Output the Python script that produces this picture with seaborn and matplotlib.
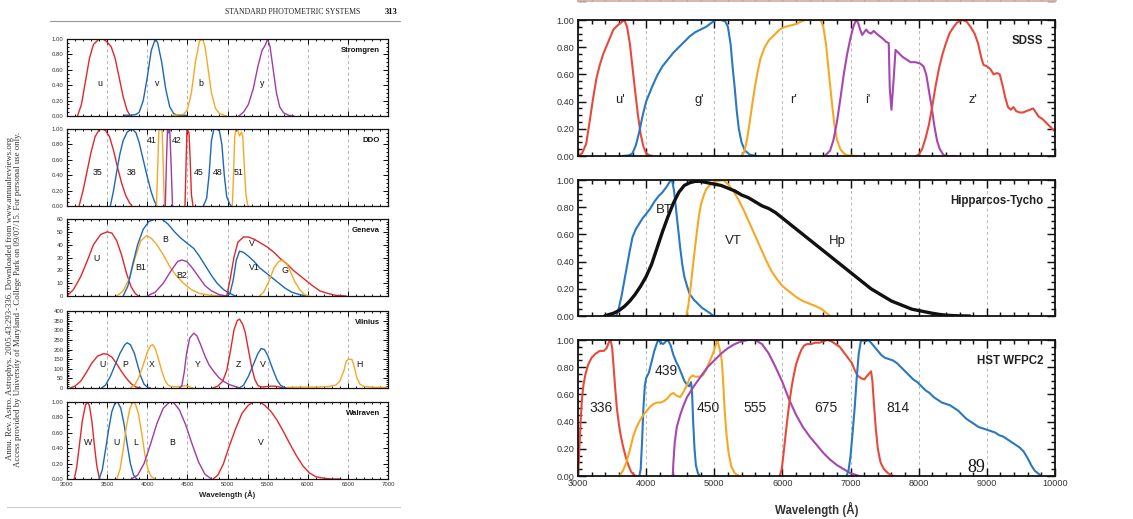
import matplotlib
matplotlib.use("Agg")
import matplotlib.pyplot as plt
import seaborn as sns
from matplotlib.ticker import MultipleLocator, FormatStrFormatter, NullFormatter

# ---------------- DATA (wavelength [A], relative response) ----------------
# Stromgren
STROM_u = [(3130,0),(3180,0.15),(3230,0.45),(3280,0.75),(3330,0.93),(3400,1.0),(3450,1.0),(3500,0.96),(3550,0.9),(3600,0.75),(3650,0.5),(3700,0.25),(3750,0.07),(3790,0.0)]
STROM_v = [(3710,0.01),(3800,0.01),(3860,0.02),(3900,0.05),(3950,0.2),(4000,0.5),(4050,0.85),(4100,1.0),(4130,0.95),(4180,0.7),(4230,0.35),(4280,0.12),(4330,0.03),(4380,0.01),(4490,0.01)]
STROM_b = [(4310,0.01),(4450,0.02),(4500,0.08),(4550,0.3),(4600,0.7),(4650,0.97),(4690,1.0),(4720,0.9),(4760,0.6),(4800,0.3),(4850,0.1),(4900,0.03),(4990,0.0)]
STROM_y = [(5140,0),(5200,0.05),(5260,0.15),(5320,0.35),(5380,0.65),(5430,0.85),(5470,0.92),(5500,1.0),(5530,0.9),(5570,0.6),(5610,0.3),(5650,0.12),(5700,0.04),(5760,0.01),(5830,0)]
# DDO
DDO_35 = [(3150,0),(3200,0.2),(3250,0.45),(3300,0.7),(3350,0.9),(3400,0.99),(3440,1.0),(3480,0.98),(3530,0.9),(3580,0.72),(3630,0.5),(3680,0.3),(3730,0.14),(3780,0.04),(3810,0)]
DDO_38 = [(3540,0),(3580,0.2),(3620,0.45),(3660,0.68),(3700,0.85),(3750,0.96),(3810,1.0),(3860,0.95),(3900,0.82),(3950,0.6),(4000,0.38),(4050,0.18),(4090,0.06),(4120,0)]
DDO_41 = [(4115,0),(4130,0.5),(4145,0.98),(4160,1.0),(4185,0.98),(4200,0.5),(4215,0)]
DDO_42 = [(4225,0),(4240,0.6),(4252,0.98),(4265,0.95),(4280,1.0),(4295,0.6),(4315,0)]
DDO_45 = [(4470,0),(4485,0.6),(4495,1.0),(4510,0.97),(4520,0.95),(4535,0.6),(4550,0.15),(4570,0)]
DDO_48 = [(4700,0),(4740,0.1),(4770,0.4),(4800,0.85),(4830,1.0),(4870,1.0),(4900,0.97),(4930,0.8),(4960,0.4),(4990,0.12),(5030,0.02),(5050,0)]
DDO_51 = [(5060,0),(5075,0.4),(5090,0.9),(5105,1.0),(5125,0.99),(5150,0.91),(5175,0.96),(5190,0.9),(5210,0.5),(5230,0.15),(5250,0.02),(5260,0)]
# Geneva
GEN_U = [(3000,0),(3080,5),(3170,15),(3250,27),(3330,40),(3420,48),(3500,50),(3560,49),(3620,43),(3680,32),(3740,18),(3800,7),(3850,2),(3890,0)]
GEN_B1 = [(3620,0),(3700,4),(3780,14),(3850,30),(3920,43),(3990,47),(4050,45),(4120,40),(4200,32),(4280,23),(4360,16),(4450,10),(4550,5),(4650,2),(4800,0.5),(4990,0)]
GEN_B = [(3700,0),(3760,8),(3820,25),(3880,40),(3950,52),(4020,58),(4100,60),(4180,60),(4260,56),(4340,50),(4420,45),(4500,41),(4580,37),(4650,31),(4720,24),(4800,16),(4870,10),(4950,5),(5030,2),(5100,0)]
GEN_B2 = [(4000,0),(4100,3),(4200,10),(4300,20),(4380,27),(4430,28),(4490,27),(4560,22),(4640,15),(4720,8),(4800,4),(4900,1),(4990,0)]
GEN_V = [(4990,0),(5030,12),(5080,30),(5130,42),(5200,46),(5260,46),(5340,44),(5420,41),(5500,38),(5580,34),(5660,29),(5740,25),(5820,20),(5900,16),(5980,12),(6060,8),(6150,4),(6250,2),(6350,0.5),(6480,0)]
GEN_V1 = [(4990,0),(5030,2),(5070,12),(5110,28),(5150,35),(5200,34),(5260,31),(5330,27),(5400,22),(5480,18),(5560,14),(5640,10),(5720,6),(5800,3),(5900,1),(6000,0)]
GEN_G = [(5400,0),(5450,3),(5520,12),(5580,22),(5640,27),(5690,28),(5740,25),(5790,18),(5840,11),(5900,5),(5960,1),(6020,0)]
# Vilnius
VIL_U = [(3040,0),(3100,10),(3170,35),(3240,80),(3310,130),(3380,165),(3450,178),(3500,176),(3560,160),(3620,125),(3680,85),(3740,50),(3800,22),(3860,5),(3920,0)]
VIL_P = [(3430,0),(3480,15),(3540,60),(3600,120),(3660,180),(3720,225),(3750,235),(3790,225),(3840,180),(3880,120),(3920,60),(3960,20),(4000,5),(4040,0)]
VIL_X = [(3790,0),(3850,20),(3900,60),(3950,120),(4000,185),(4040,220),(4070,225),(4100,205),(4140,150),(4180,90),(4220,40),(4260,15),(4300,8),(4370,6),(4440,10),(4490,12),(4530,6),(4570,0)]
VIL_Y = [(4400,0),(4430,10),(4460,80),(4490,180),(4530,260),(4580,285),(4620,270),(4670,220),(4720,165),(4770,120),(4830,85),(4890,55),(4950,35),(5020,18),(5100,7),(5160,0)]
VIL_Z = [(4820,0),(4880,10),(4940,35),(4990,90),(5040,200),(5080,300),(5120,350),(5150,358),(5190,330),(5220,290),(5260,200),(5300,110),(5340,45),(5380,12),(5430,5),(5500,8),(5560,10),(5620,8),(5680,2),(5720,0)]
VIL_V = [(5150,0),(5200,15),(5260,60),(5320,120),(5380,180),(5420,205),(5460,200),(5500,170),(5540,125),(5580,80),(5620,40),(5660,15),(5700,5),(5740,0)]
VIL_H = [(5740,3),(5900,5),(6100,5),(6250,7),(6350,15),(6400,35),(6450,90),(6480,140),(6510,150),(6550,148),(6580,110),(6610,55),(6650,20),(6700,8),(6800,4),(6900,3),(7000,3)]
# Walraven
WAL_W = [(3090,0),(3120,0.15),(3150,0.4),(3190,0.75),(3230,0.96),(3255,1.0),(3280,0.95),(3310,0.75),(3340,0.45),(3370,0.18),(3400,0.02),(3410,0)]
WAL_U = [(3400,0),(3440,0.12),(3480,0.38),(3520,0.65),(3560,0.88),(3600,0.99),(3630,1.0),(3670,0.92),(3710,0.72),(3750,0.45),(3790,0.2),(3830,0.05),(3870,0)]
WAL_L = [(3620,0),(3660,0.12),(3700,0.38),(3740,0.68),(3780,0.9),(3820,1.0),(3850,0.98),(3890,0.85),(3930,0.6),(3970,0.32),(4010,0.12),(4050,0.03),(4100,0)]
WAL_B = [(3800,0),(3880,0.05),(3960,0.2),(4040,0.45),(4120,0.72),(4200,0.92),(4280,1.0),(4330,0.99),(4400,0.9),(4480,0.7),(4560,0.45),(4640,0.22),(4720,0.06),(4800,0.0)]
WAL_V = [(4820,0),(4880,0.05),(4950,0.2),(5020,0.42),(5100,0.65),(5180,0.85),(5260,0.96),(5330,1.0),(5400,1.0),(5460,0.96),(5540,0.88),(5620,0.76),(5700,0.61),(5780,0.45),(5860,0.3),(5940,0.17),(6020,0.08),(6100,0.03),(6200,0.01),(6300,0.0),(6400,0)]
# SDSS
SDSS_u = [(3000,0),(3060,0.02),(3120,0.09),(3170,0.25),(3220,0.42),(3270,0.57),(3320,0.67),(3370,0.75),(3420,0.81),(3470,0.87),(3520,0.93),(3580,0.96),(3630,0.98),(3680,1.0),(3720,0.95),(3760,0.83),(3800,0.65),(3840,0.47),(3880,0.3),(3920,0.16),(3960,0.07),(4000,0.02),(4050,0.005),(4100,0)]
SDSS_g = [(3650,0),(3750,0.005),(3800,0.02),(3850,0.08),(3900,0.18),(3950,0.3),(4000,0.4),(4080,0.5),(4160,0.59),(4240,0.66),(4320,0.71),(4400,0.76),(4480,0.8),(4560,0.84),(4640,0.88),(4720,0.91),(4800,0.93),(4880,0.95),(4960,0.98),(5020,1.0),(5100,1.0),(5160,0.99),(5200,0.95),(5240,0.82),(5270,0.65),(5300,0.5),(5330,0.33),(5360,0.2),(5400,0.1),(5450,0.04),(5520,0.01),(5620,0)]
SDSS_r = [(5400,0),(5440,0.03),(5480,0.12),(5520,0.25),(5560,0.39),(5600,0.52),(5640,0.63),(5680,0.72),(5740,0.8),(5800,0.85),(5880,0.89),(5960,0.93),(6040,0.95),(6120,0.96),(6200,0.97),(6280,0.99),(6340,1.0),(6400,1.0),(6560,1.0),(6600,0.95),(6640,0.82),(6680,0.62),(6720,0.42),(6760,0.24),(6800,0.12),(6850,0.05),(6900,0.02),(6950,0.005),(7100,0)]
SDSS_i = [(6620,0),(6700,0.04),(6750,0.12),(6800,0.25),(6850,0.42),(6900,0.6),(6950,0.75),(7000,0.87),(7040,0.95),(7080,1.0),(7110,0.98),(7140,0.93),(7170,0.89),(7200,0.91),(7230,0.93),(7260,0.91),(7300,0.9),(7340,0.92),(7380,0.9),(7430,0.88),(7480,0.86),(7520,0.84),(7560,0.83),(7575,0.5),(7600,0.34),(7630,0.55),(7660,0.78),(7700,0.76),(7760,0.73),(7820,0.71),(7880,0.69),(7950,0.69),(8020,0.68),(8070,0.66),(8110,0.6),(8150,0.48),(8190,0.36),(8230,0.22),(8270,0.11),(8310,0.05),(8360,0.01),(8400,0),(8550,0)]
SDSS_z = [(7960,0),(8000,0.01),(8050,0.05),(8100,0.13),(8150,0.23),(8200,0.37),(8250,0.52),(8300,0.65),(8350,0.75),(8400,0.83),(8450,0.9),(8500,0.94),(8560,0.98),(8640,1.0),(8700,0.99),(8760,0.95),(8820,0.9),(8870,0.83),(8920,0.72),(8950,0.67),(9000,0.66),(9050,0.64),(9100,0.6),(9150,0.61),(9190,0.6),(9230,0.52),(9270,0.43),(9310,0.36),(9350,0.34),(9390,0.36),(9430,0.33),(9480,0.32),(9530,0.32),(9580,0.33),(9630,0.34),(9680,0.35),(9720,0.32),(9760,0.29),(9820,0.27),(9880,0.24),(9940,0.21),(10000,0.18)]
# Hipparcos-Tycho
HIP_BT = [(3560,0),(3600,0.06),(3640,0.15),(3680,0.26),(3720,0.37),(3760,0.48),(3800,0.58),(3850,0.64),(3900,0.68),(3950,0.72),(4000,0.75),(4060,0.79),(4120,0.84),(4180,0.88),(4240,0.91),(4300,0.95),(4350,0.99),(4380,1.0),(4410,0.92),(4440,0.78),(4470,0.64),(4500,0.5),(4530,0.38),(4560,0.29),(4600,0.22),(4640,0.16),(4700,0.12),(4760,0.09),(4820,0.06),(4880,0.04),(4940,0.02),(4990,0)]
HIP_Hp = [(3390,0),(3450,0.01),(3520,0.02),(3600,0.04),(3680,0.07),(3760,0.11),(3840,0.16),(3920,0.22),(4000,0.29),(4080,0.38),(4160,0.5),(4240,0.62),(4320,0.73),(4400,0.83),(4480,0.91),(4560,0.96),(4640,0.98),(4720,0.99),(4800,0.99),(4900,0.98),(5000,0.97),(5100,0.96),(5200,0.94),(5300,0.92),(5400,0.89),(5500,0.87),(5600,0.84),(5700,0.81),(5800,0.79),(5900,0.76),(6000,0.72),(6100,0.68),(6200,0.64),(6300,0.6),(6400,0.56),(6500,0.52),(6600,0.48),(6700,0.44),(6800,0.4),(6900,0.36),(7000,0.32),(7100,0.28),(7200,0.24),(7300,0.2),(7400,0.17),(7500,0.14),(7600,0.11),(7700,0.09),(7800,0.07),(7900,0.05),(8000,0.04),(8100,0.03),(8200,0.02),(8300,0.012),(8400,0.006),(8500,0.003),(8600,0.001),(8750,0)]
HIP_VT = [(4590,0),(4620,0.08),(4650,0.2),(4680,0.34),(4710,0.47),(4740,0.6),(4770,0.72),(4800,0.81),(4840,0.88),(4880,0.93),(4930,0.96),(4980,0.98),(5050,0.99),(5130,1.0),(5200,0.97),(5280,0.92),(5360,0.85),(5440,0.77),(5520,0.68),(5600,0.59),(5680,0.5),(5760,0.41),(5840,0.33),(5920,0.27),(6000,0.22),(6100,0.18),(6200,0.14),(6300,0.11),(6400,0.09),(6500,0.07),(6580,0.05),(6650,0.02),(6700,0)]
# HST WFPC2
HST_336 = [(3000,0),(3020,0.2),(3040,0.42),(3060,0.58),(3080,0.67),(3110,0.75),(3150,0.82),(3200,0.87),(3260,0.9),(3320,0.92),(3380,0.92),(3420,0.94),(3450,0.98),(3475,1.0),(3500,0.95),(3520,0.82),(3545,0.65),(3570,0.5),(3600,0.38),(3630,0.29),(3660,0.22),(3700,0.14),(3740,0.08),(3780,0.03),(3830,0.005),(3860,0)]
HST_439 = [(3900,0),(3920,0.05),(3940,0.25),(3960,0.5),(3980,0.66),(4000,0.72),(4040,0.76),(4080,0.84),(4120,0.92),(4160,0.98),(4180,1.0),(4220,0.98),(4250,0.97),(4290,0.99),(4320,1.0),(4360,0.96),(4400,0.89),(4440,0.84),(4480,0.8),(4520,0.75),(4560,0.7),(4600,0.67),(4630,0.66),(4660,0.69),(4675,0.6),(4690,0.4),(4710,0.2),(4730,0.08),(4760,0.02),(4790,0)]
HST_450 = [(3610,0),(3660,0.04),(3710,0.1),(3760,0.19),(3810,0.29),(3860,0.36),(3910,0.41),(3960,0.45),(4010,0.48),(4060,0.51),(4110,0.53),(4160,0.54),(4210,0.54),(4260,0.55),(4310,0.57),(4360,0.6),(4400,0.61),(4450,0.59),(4500,0.58),(4550,0.62),(4600,0.67),(4640,0.72),(4680,0.74),(4720,0.73),(4780,0.73),(4830,0.74),(4880,0.78),(4930,0.84),(4980,0.9),(5020,0.96),(5045,1.0),(5080,0.93),(5110,0.85),(5130,0.7),(5150,0.5),(5180,0.3),(5210,0.17),(5250,0.07),(5300,0.02),(5370,0)]
HST_555 = [(4390,0),(4400,0.1),(4420,0.25),(4450,0.36),(4500,0.45),(4550,0.52),(4600,0.58),(4650,0.62),(4700,0.66),(4800,0.73),(4900,0.8),(5000,0.85),(5100,0.9),(5200,0.94),(5300,0.97),(5400,0.99),(5500,1.0),(5600,1.0),(5700,0.97),(5800,0.9),(5900,0.8),(6000,0.69),(6100,0.56),(6200,0.45),(6300,0.36),(6400,0.29),(6500,0.23),(6600,0.17),(6700,0.12),(6800,0.08),(6900,0.05),(7000,0.02),(7100,0.005),(7120,0)]
HST_675 = [(5960,0),(5990,0.05),(6020,0.18),(6050,0.32),(6080,0.45),(6110,0.57),(6140,0.67),(6170,0.75),(6200,0.82),(6240,0.88),(6280,0.93),(6320,0.96),(6360,0.97),(6420,0.97),(6480,0.98),(6540,0.98),(6600,0.99),(6660,1.0),(6720,0.99),(6780,0.97),(6840,0.95),(6900,0.91),(6960,0.87),(7020,0.83),(7060,0.78),(7100,0.74),(7150,0.72),(7200,0.71),(7250,0.74),(7300,0.77),(7320,0.7),(7340,0.55),(7370,0.35),(7400,0.2),(7440,0.1),(7490,0.05),(7550,0.02),(7630,0)]
HST_814 = [(6940,0),(6970,0.04),(7000,0.15),(7030,0.32),(7060,0.5),(7090,0.72),(7120,0.9),(7150,0.99),(7180,1.0),(7220,0.99),(7260,1.0),(7300,0.98),(7350,0.95),(7400,0.92),(7450,0.89),(7500,0.87),(7560,0.86),(7620,0.85),(7680,0.83),(7740,0.8),(7800,0.77),(7860,0.74),(7920,0.71),(7980,0.69),(8040,0.66),(8100,0.63),(8160,0.61),(8220,0.58),(8280,0.56),(8340,0.54),(8400,0.53),(8460,0.52),(8520,0.5),(8580,0.48),(8640,0.45),(8700,0.42),(8760,0.4),(8820,0.38),(8880,0.36),(8940,0.35),(9000,0.34),(9060,0.33),(9120,0.32),(9180,0.3),(9240,0.29),(9300,0.27),(9360,0.25),(9420,0.23),(9480,0.21),(9540,0.18),(9600,0.13),(9650,0.08),(9700,0.04),(9750,0.02),(9800,0)]

# label positions (band name, wavelength, value)
STROM_LABELS = [("u",3405,0.42),("v",4120,0.42),("b",4670,0.42),("y",5433,0.42)]
DDO_LABELS = [("35",3384,0.44),("38",3810,0.44),("41",4058,0.85),("42",4368,0.85),("45",4645,0.44),("48",4876,0.44),("51",5132,0.44)]
GEN_LABELS = [("U",3373,29),("B1",3912,22),("B",4223,44),("B2",4430,16),("V",5309,41),("V1",5330,22),("G",5715,20)]
VIL_LABELS = [("U",3448,120),("P",3725,120),("X",4057,120),("Y",4625,120),("Z",5135,120),("V",5437,120),("H",6639,120)]
WAL_LABELS = [("W",3257,0.47),("U",3613,0.47),("L",3850,0.47),("B",4306,0.47),("V",5417,0.47)]
SDSS_LABELS = [("u'",3612,0.41),("g'",4777,0.41),("r'",6157,0.41),("i'",7259,0.41),("z'",8800,0.41)]
HIP_LABELS = [("BT",4273,0.78),("VT",5276,0.55),("Hp",6808,0.55)]
HST_LABELS = [("336",3343,0.5),("439",4297,0.77),("450",4909,0.5),("555",5594,0.5),("675",6637,0.5),("814",7700,0.5)]

# ---------------- STYLE ----------------
sns.set_theme(style="white")
plt.rcParams['font.family'] = ['Liberation Sans', 'DejaVu Sans']

RED = '#e2262a'; BLUE = '#1b67b8'; ORANGE = '#f6a823'; PURPLE = '#a13aa5'; BLACK = '#111111'
RRED = '#e8493a'; RBLUE = '#2a78c0'; RORANGE = '#f6a823'; RPURPLE = '#a945b0'

W, H = 1133, 519
fig = plt.figure(figsize=(W / 100, H / 100), dpi=100)
fig.patch.set_facecolor('white')


def rect(x0, y0, x1, y1):
    return [x0 / W, 1 - y1 / H, (x1 - x0) / W, (y1 - y0) / H]


def draw(ax, curves, lw):
    for pts, color, width in curves:
        xs = [p[0] for p in pts]
        ys = [p[1] for p in pts]
        sns.lineplot(x=xs, y=ys, color=color, linewidth=lw * width, ax=ax,
                     estimator=None, sort=False, legend=False)


def style_ax(ax, xlim, xmaj, xmin, ylim, ymaj, ymin, yfmt, fs, tl, spw, gridcol, show_x):
    ax.set_xlim(*xlim); ax.set_ylim(*ylim)
    ax.xaxis.set_major_locator(MultipleLocator(xmaj))
    ax.xaxis.set_minor_locator(MultipleLocator(xmin))
    ax.yaxis.set_major_locator(MultipleLocator(ymaj))
    ax.yaxis.set_minor_locator(MultipleLocator(ymin))
    ax.yaxis.set_major_formatter(FormatStrFormatter(yfmt))
    ax.tick_params(which='both', direction='in', top=True, right=True,
                   bottom=True, left=True, labelsize=fs, pad=2.5, width=spw * 0.8,
                   colors='#111111', labelcolor='#333333')
    ax.tick_params(which='major', length=tl)
    ax.tick_params(which='minor', length=tl * 0.5)
    ax.grid(False)
    for xv in range(xlim[0] + xmaj, xlim[1], xmaj):
        ax.axvline(xv, color=gridcol, lw=0.7, ls=(0, (3, 3)), zorder=0)
    for s in ax.spines.values():
        s.set_linewidth(spw); s.set_color('#111111')
    ax.set_xlabel(''); ax.set_ylabel('')
    if not show_x:
        ax.set_xticklabels([])


# ---------------- LEFT PAGE ----------------
LX0, LX1 = 67, 388
left_specs = [
    (39, 116, [(STROM_u, RED, 1), (STROM_v, BLUE, 1), (STROM_b, ORANGE, 1), (STROM_y, PURPLE, 1)],
     (0, 1.0), 0.2, 0.05, '%.2f', STROM_LABELS, 'Stromgren'),
    (129, 206, [(DDO_35, RED, 1), (DDO_38, BLUE, 1), (DDO_41, ORANGE, 1), (DDO_42, PURPLE, 1),
                (DDO_45, RED, 1), (DDO_48, BLUE, 1), (DDO_51, ORANGE, 1)],
     (0, 1.0), 0.2, 0.05, '%.2f', DDO_LABELS, 'DDO'),
    (219, 296, [(GEN_U, RED, 1), (GEN_B1, ORANGE, 1), (GEN_B, BLUE, 1), (GEN_B2, PURPLE, 1),
                (GEN_V, RED, 1), (GEN_V1, BLUE, 1), (GEN_G, ORANGE, 1)],
     (0, 60), 10, 2, '%d', GEN_LABELS, 'Geneva'),
    (311, 388, [(VIL_U, RED, 1), (VIL_P, BLUE, 1), (VIL_X, ORANGE, 1), (VIL_Y, PURPLE, 1),
                (VIL_Z, RED, 1), (VIL_V, BLUE, 1), (VIL_H, ORANGE, 1)],
     (0, 400), 50, 10, '%d', VIL_LABELS, 'Vilnius'),
    (402, 479, [(WAL_W, RED, 1), (WAL_U, BLUE, 1), (WAL_L, ORANGE, 1), (WAL_B, PURPLE, 1), (WAL_V, RED, 1)],
     (0, 1.0), 0.2, 0.05, '%.2f', WAL_LABELS, 'Walraven'),
]
for i, (y0, y1, curves, ylim, ymaj, ymin, yfmt, labels, title) in enumerate(left_specs):
    ax = fig.add_axes(rect(LX0, y0, LX1, y1))
    draw(ax, curves, 1.0)
    last = i == len(left_specs) - 1
    style_ax(ax, (3000, 7000), 500, 100, ylim, ymaj, ymin, yfmt, 4.3, 3.5, 0.9, '#b0b0b0', last)
    for name, xv, yv in labels:
        ax.text(xv, yv, name, fontsize=6.3, ha='center', va='center', color='#111111')
    ax.text(0.975, 0.855, title, transform=ax.transAxes, ha='right', va='center',
            fontsize=5.6, fontweight='bold', color='#111111')
    if last:
        ax.set_xlabel('Wavelength (Å)', fontsize=5.6, fontweight='bold', labelpad=2)

# header / page furniture
fig.text(360 / W, 1 - 12.5 / H, 'STANDARD PHOTOMETRIC SYSTEMS', ha='right', va='center',
         fontsize=5.6, family='Liberation Serif', color='#222222')
fig.text(397 / W, 1 - 12.5 / H, '313', ha='right', va='center', fontsize=6.2,
         family='Liberation Serif', fontweight='bold', color='#111111')
fig.add_artist(plt.Line2D([50 / W, 400 / W], [1 - 20.5 / H, 1 - 20.5 / H], color='#999999', lw=0.8))
fig.add_artist(plt.Line2D([7 / W, 400 / W], [1 - 507 / H, 1 - 507 / H], color='#cccccc', lw=0.8))
fig.text(10.5 / W, 1 - 299 / H,
         'Annu. Rev. Astro. Astrophys. 2005.43:293-336. Downloaded from www.annualreviews.org',
         rotation=90, ha='center', va='center', fontsize=6.3, family='Liberation Serif', color='#333333')
fig.text(18.5 / W, 1 - 299 / H,
         'Access provided by University of Maryland - College Park on 09/07/15. For personal use only.',
         rotation=90, ha='center', va='center', fontsize=6.3, family='Liberation Serif', color='#333333')

# ---------------- RIGHT PAGE ----------------
RX0, RX1 = 578, 1055
# bottom edge of a panel cut off at the top of the page
axp = fig.add_axes(rect(RX0, -60, RX1, 1))
style_ax(axp, (3000, 10000), 1000, 200, (0, 1.0), 0.2, 0.05, '%.2f', 6.6, 6, 1.3, '#c0c0c0', False)
axp.yaxis.set_major_formatter(NullFormatter())
for s in axp.spines.values():
    s.set_color('#d9b0a8')

right_specs = [
    (20, 156, [(SDSS_u, RRED, 1), (SDSS_g, RBLUE, 1), (SDSS_r, RORANGE, 1), (SDSS_i, RPURPLE, 1), (SDSS_z, RRED, 1)],
     SDSS_LABELS, 'SDSS', 9.3),
    (180, 316, [(HIP_BT, RBLUE, 1), (HIP_VT, RORANGE, 1), (HIP_Hp, BLACK, 1.6)],
     HIP_LABELS, 'Hipparcos-Tycho', 9.5),
    (340, 476, [(HST_336, RRED, 1), (HST_439, RBLUE, 1), (HST_450, RORANGE, 1), (HST_555, RPURPLE, 1),
                (HST_675, RRED, 1), (HST_814, RBLUE, 1)],
     HST_LABELS, 'HST WFPC2', 10.0),
]
for i, (y0, y1, curves, labels, title, lfs) in enumerate(right_specs):
    ax = fig.add_axes(rect(RX0, y0, RX1, y1))
    draw(ax, curves, 1.5)
    last = i == len(right_specs) - 1
    style_ax(ax, (3000, 10000), 1000, 200, (0, 1.0), 0.2, 0.05, '%.2f', 6.6, 6, 1.3, '#b8b8b8', last)
    for name, xv, yv in labels:
        ax.text(xv, yv, name, fontsize=lfs, ha='center', va='center', color='#222222')
    ax.text(0.975, 0.845, title, transform=ax.transAxes, ha='right', va='center',
            fontsize=8.3, fontweight='bold', color='#222222')
    if last:
        ax.set_xlabel('Wavelength (Å)', fontsize=8.3, fontweight='bold', labelpad=10, color='#333333')
        ax.text(8840, 0.06, '89', fontsize=13, family='Liberation Serif', ha='center', va='center', color='#111111')

fig.savefig('out.png', dpi=100, facecolor='white')
